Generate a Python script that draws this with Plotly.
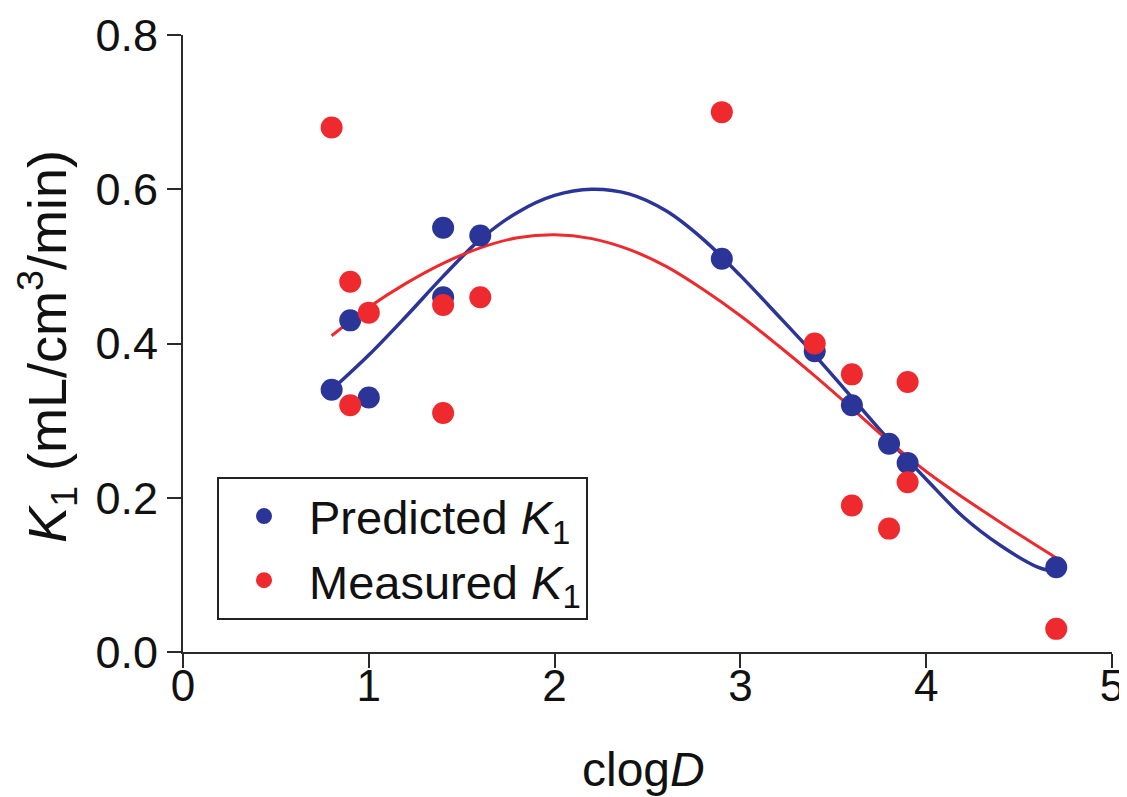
import plotly.graph_objects as go

# Predicted K1 points
pred_x = [0.8, 0.9, 1.0, 1.4, 1.4, 1.6, 2.9, 3.4, 3.6, 3.8, 3.9, 4.7]
pred_y = [0.34, 0.43, 0.33, 0.55, 0.46, 0.54, 0.51, 0.39, 0.32, 0.27, 0.245, 0.11]

# Measured K1 points
meas_x = [0.8, 0.9, 0.9, 1.0, 1.4, 1.4, 1.6, 2.9, 3.4, 3.6, 3.6, 3.8, 3.9, 3.9, 4.7]
meas_y = [0.68, 0.48, 0.32, 0.44, 0.45, 0.31, 0.46, 0.70, 0.40, 0.36, 0.19, 0.16, 0.35, 0.22, 0.03]

# Fitted curve for predicted
pred_fit_x = [0.8, 1.0, 1.2, 1.4, 1.6, 1.8, 2.0, 2.2, 2.4, 2.6, 2.8, 3.0, 3.2, 3.4, 3.6, 3.8, 4.0, 4.2, 4.4, 4.6, 4.7]
pred_fit_y = [0.34, 0.385, 0.435, 0.487, 0.535, 0.570, 0.592, 0.600, 0.594, 0.572, 0.535, 0.488, 0.437, 0.385,
              0.330, 0.275, 0.224, 0.175, 0.138, 0.110, 0.104]

# Fitted curve for measured
meas_fit_x = [0.8, 1.0, 1.2, 1.4, 1.6, 1.8, 2.0, 2.2, 2.4, 2.6, 2.8, 3.0, 3.2, 3.4, 3.6, 3.8, 4.0, 4.2, 4.4, 4.6, 4.7]
meas_fit_y = [0.41, 0.447, 0.478, 0.504, 0.524, 0.537, 0.541, 0.536, 0.522, 0.500, 0.470, 0.436, 0.398, 0.358,
              0.316, 0.273, 0.234, 0.200, 0.168, 0.137, 0.122]

x_ticks = [0, 1, 2, 3, 4, 5]
y_ticks = [0.0, 0.2, 0.4, 0.6, 0.8]

x_title = "clog<i>D</i>"
y_title = "<i>K</i><sub>1</sub> (mL/cm<sup>3</sup>/min)"

BLUE = "#2a3597"
RED = "#ee2a2e"
AXC = "#2a2a2a"
FONT = "Liberation Sans, Arial, sans-serif"

fig = go.Figure()
fig.add_trace(go.Scatter(x=pred_fit_x, y=pred_fit_y, mode="lines", line=dict(color=BLUE, width=3.5, shape="spline"),
                         showlegend=False, hoverinfo="skip"))
fig.add_trace(go.Scatter(x=meas_fit_x, y=meas_fit_y, mode="lines", line=dict(color=RED, width=3, shape="spline"),
                         showlegend=False, hoverinfo="skip"))
fig.add_trace(go.Scatter(x=pred_x, y=pred_y, mode="markers", name="Predicted <i>K</i><sub>1</sub>",
                         marker=dict(color=BLUE, size=22, line=dict(width=0))))
fig.add_trace(go.Scatter(x=meas_x, y=meas_y, mode="markers", name="Measured <i>K</i><sub>1</sub>",
                         marker=dict(color=RED, size=22, line=dict(width=0))))

fig.update_layout(
    width=1119, height=789,
    margin=dict(l=175, r=15, t=27, b=145),
    plot_bgcolor="white", paper_bgcolor="white",
    font=dict(family=FONT, color="#111111", size=44),
    legend=dict(x=0.0366, y=0.2836, xanchor="left", yanchor="top",
                bordercolor="#222222", borderwidth=2, bgcolor="white",
                font=dict(size=47), itemsizing="trace", itemwidth=80, tracegroupgap=0),
    xaxis=dict(range=[0, 5], tickvals=x_ticks, showline=True, linecolor=AXC, linewidth=2, automargin=False,
               ticks="outside", ticklen=14, tickwidth=2, tickcolor=AXC, showgrid=False, zeroline=False,
               tickfont=dict(size=44), ticklabelstandoff=-20),
    yaxis=dict(range=[0, 0.8], tickvals=y_ticks, tickformat=".1f", showline=True, linecolor=AXC, linewidth=2,
               automargin=False,
               ticks="outside", ticklen=14, tickwidth=2, tickcolor=AXC, showgrid=False, zeroline=False,
               tickfont=dict(size=45)),
    annotations=[
        dict(text=x_title, xref="paper", yref="paper", x=0.496, y=-0.191, xanchor="center", yanchor="middle",
             showarrow=False, font=dict(size=48)),
        dict(text=y_title, xref="paper", yref="paper", x=-0.147, y=0.495, xanchor="center", yanchor="middle",
             textangle=-90, showarrow=False, font=dict(size=54)),
    ],
)

fig.write_html("out.html")
